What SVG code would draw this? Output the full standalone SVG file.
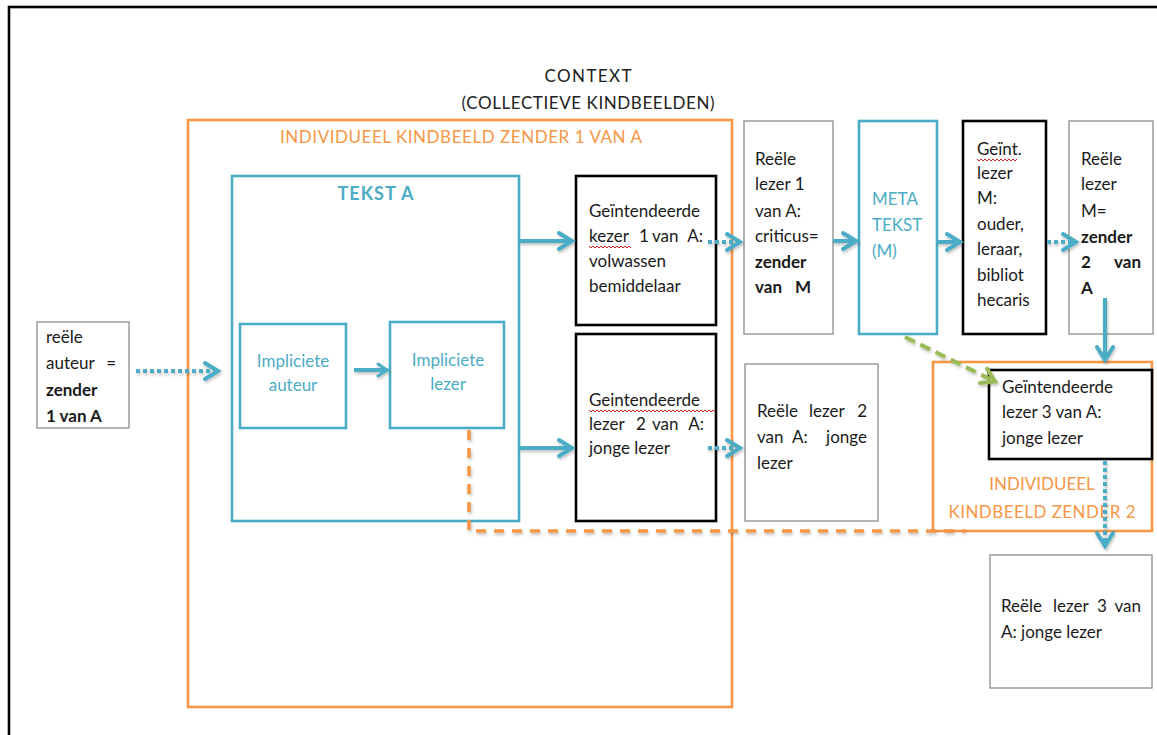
<svg xmlns="http://www.w3.org/2000/svg" width="1157" height="735" viewBox="0 0 1157 735">
  <defs>
    <style>
      text { font-family: Lato, "Open Sans", "Liberation Sans", sans-serif; font-size: 17px; fill: #1a1a1a; }
      .b { font-weight: bold; }
      .blue { fill: #4BACC6; }
      .orange { fill: #F79646; }
      .title { font-size: 17px; fill: #222; }
      .heading { font-size: 18px; letter-spacing: 1px; }
      .box-gray { fill: #fff; stroke: #8c8c8c; stroke-width: 1.3; }
      .box-black { fill: #fff; stroke: #000; stroke-width: 2.6; }
      .box-blue { fill: #fff; stroke: #4BACC6; stroke-width: 2.6; }
      .frame-orange { fill: none; stroke: #F79646; stroke-width: 2.6; }
      .solid { fill: none; stroke: #4BACC6; stroke-width: 4; }
      .dotted { fill: none; stroke: #4BACC6; stroke-width: 4; stroke-dasharray: 4 3; }
      .dash-orange { fill: none; stroke: #F79646; stroke-width: 3.5; stroke-dasharray: 10 8; }
      .dash-green { fill: none; stroke: #9BBB59; stroke-width: 4; stroke-dasharray: 11 6; }
      .squiggle { fill: none; stroke: #e02020; stroke-width: 1; }
    </style>
    <marker id="headBlue" markerUnits="userSpaceOnUse" markerWidth="22" markerHeight="22" viewBox="0 0 22 22" refX="19" refY="11" orient="auto">
      <path d="M5,3 L18,11 L5,19" fill="none" stroke="#4BACC6" stroke-width="4" stroke-linecap="round"/>
    </marker>
    <marker id="headBlueSmall" markerUnits="userSpaceOnUse" markerWidth="16" markerHeight="16" viewBox="0 0 16 16" refX="14" refY="8" orient="auto">
      <path d="M4,2 L13,8 L4,14" fill="none" stroke="#4BACC6" stroke-width="3" stroke-linecap="round"/>
    </marker>
    <marker id="headGreen" markerUnits="userSpaceOnUse" markerWidth="22" markerHeight="22" viewBox="0 0 22 22" refX="19" refY="11" orient="auto">
      <path d="M5,3 L18,11 L5,19" fill="none" stroke="#9BBB59" stroke-width="4" stroke-linecap="round"/>
    </marker>
    <filter id="soft" x="-20%" y="-50%" width="140%" height="200%">
      <feDropShadow dx="1" dy="2" stdDeviation="1.5" flood-color="#000" flood-opacity="0.25"/>
    </filter>
  </defs>

  <rect width="1157" height="735" fill="#fff"/>

  <!-- outer frame -->
  <rect x="9" y="7" width="1160" height="740" fill="none" stroke="#000" stroke-width="2.6"/>

  <!-- context heading -->
  <g id="context">
    <text class="title" x="588" y="82" text-anchor="middle" textLength="87">CONTEXT</text>
    <text class="title" x="588" y="109" text-anchor="middle" textLength="253">(COLLECTIEVE KINDBEELDEN)</text>
  </g>

  <!-- individual child image of sender 1 -->
  <g id="kindbeeld1">
    <rect class="frame-orange" x="188" y="120" width="544" height="587"/>
    <text class="orange" x="461" y="143" text-anchor="middle" textLength="362">INDIVIDUEEL KINDBEELD ZENDER 1 VAN A</text>
  </g>

  <!-- text A -->
  <g id="tekstA">
    <rect class="box-blue" x="232" y="176" width="287" height="345"/>
    <text class="blue b heading" x="376" y="200" text-anchor="middle">TEKST A</text>
  </g>

  <g id="reele-auteur">
    <rect class="box-gray" x="37" y="322" width="92" height="106"/>
    <text x="46" y="343">reële</text>
    <text x="46" y="369">auteur</text>
    <text x="116" y="369" text-anchor="end">=</text>
    <text class="b" x="46" y="396">zender</text>
    <text class="b" x="46" y="422">1 van A</text>
  </g>

  <g id="impliciete-auteur">
    <rect class="box-blue" x="240" y="324" width="106" height="104"/>
    <text class="blue" x="293" y="367" text-anchor="middle">Impliciete</text>
    <text class="blue" x="293" y="391" text-anchor="middle">auteur</text>
  </g>

  <g id="impliciete-lezer">
    <rect class="box-blue" x="390" y="322" width="114" height="106"/>
    <text class="blue" x="448" y="366" text-anchor="middle">Impliciete</text>
    <text class="blue" x="448" y="390" text-anchor="middle">lezer</text>
  </g>

  <g id="geint-lezer1">
    <rect class="box-black" x="576" y="176" width="140" height="149"/>
    <text x="589" y="217">Geïntendeerde</text>
    <text y="242"><tspan x="589">kezer</tspan><tspan x="639">1</tspan><tspan x="652">van</tspan></text>
    <text x="703" y="242" text-anchor="end">A:</text>
    <path class="squiggle" d="M589,246 l2,2 l2,-2 l2,2 l2,-2 l2,2 l2,-2 l2,2 l2,-2 l2,2 l2,-2 l2,2 l2,-2 l2,2 l2,-2 l2,2 l2,-2 l2,2 l2,-2 l2,2 l2,-2 l2,2"/>
    <text x="589" y="267">volwassen</text>
    <text x="589" y="292">bemiddelaar</text>
  </g>

  <g id="geint-lezer2">
    <rect class="box-black" x="576" y="334" width="140" height="187"/>
    <text x="589" y="406">Geintendeerde</text>
    <path class="squiggle" d="M589,410 l2,2 l2,-2 l2,2 l2,-2 l2,2 l2,-2 l2,2 l2,-2 l2,2 l2,-2 l2,2 l2,-2 l2,2 l2,-2 l2,2 l2,-2 l2,2 l2,-2 l2,2 l2,-2 l2,2 l2,-2 l2,2 l2,-2 l2,2 l2,-2 l2,2 l2,-2 l2,2 l2,-2 l2,2 l2,-2 l2,2 l2,-2 l2,2 l2,-2 l2,2 l2,-2 l2,2 l2,-2 l2,2 l2,-2 l2,2 l2,-2 l2,2 l2,-2 l2,2 l2,-2 l2,2 l2,-2 l2,2 l2,-2 l2,2 l2,-2 l2,2 l2,-2 l2,2 l2,-2 l2,2 l2,-2 l2,2 l2,-2 l2,2"/>
    <text y="430"><tspan x="589">lezer</tspan><tspan x="636">2</tspan><tspan x="652">van</tspan></text>
    <text x="704" y="430" text-anchor="end">A:</text>
    <text x="589" y="454">jonge lezer</text>
  </g>

  <g id="reele-lezer1">
    <rect class="box-gray" x="744" y="121" width="89" height="213"/>
    <text x="755" y="165">Reële</text>
    <text x="755" y="190">lezer 1</text>
    <text x="755" y="217">van A:</text>
    <text x="755" y="242">criticus=</text>
    <text class="b" x="755" y="268">zender</text>
    <text class="b" x="755" y="293">van</text>
    <text class="b" x="811" y="293" text-anchor="end">M</text>
  </g>

  <g id="reele-lezer2">
    <rect class="box-gray" x="745" y="364" width="133" height="157"/>
    <text y="417"><tspan x="757">Reële</tspan><tspan x="809">lezer</tspan></text>
    <text x="867" y="417" text-anchor="end">2</text>
    <text y="443"><tspan x="757">van</tspan><tspan x="792">A:</tspan></text>
    <text x="867" y="443" text-anchor="end">jonge</text>
    <text x="757" y="469">lezer</text>
  </g>

  <g id="metatekst">
    <rect class="box-blue" x="859" y="121" width="78" height="213"/>
    <text class="blue" x="872" y="205">META</text>
    <text class="blue" x="872" y="231">TEKST</text>
    <text class="blue" x="872" y="257">(M)</text>
  </g>

  <g id="geint-lezerM">
    <rect class="box-black" x="963" y="121" width="83" height="213"/>
    <text x="977" y="155">Geïnt.</text>
    <path class="squiggle" d="M977,159 l2,2 l2,-2 l2,2 l2,-2 l2,2 l2,-2 l2,2 l2,-2 l2,2 l2,-2 l2,2 l2,-2 l2,2 l2,-2 l2,2 l2,-2 l2,2 l2,-2 l2,2 l2,-2"/>
    <text x="977" y="179">lezer</text>
    <text x="977" y="204">M:</text>
    <text x="977" y="230">ouder,</text>
    <text x="977" y="255">leraar,</text>
    <text x="977" y="281">bibliot</text>
    <text x="977" y="306">hecaris</text>
  </g>

  <g id="reele-lezerM">
    <rect class="box-gray" x="1069" y="121" width="84" height="213"/>
    <text x="1081" y="165">Reële</text>
    <text x="1081" y="190">lezer</text>
    <text x="1081" y="217">M=</text>
    <text class="b" x="1081" y="243">zender</text>
    <text class="b" x="1081" y="268">2</text>
    <text class="b" x="1141" y="268" text-anchor="end">van</text>
    <text class="b" x="1081" y="294">A</text>
  </g>

  <!-- individual child image of sender 2 -->
  <g id="kindbeeld2">
    <rect class="frame-orange" x="933" y="362" width="219" height="169"/>
    <text class="orange" x="1042" y="490" text-anchor="middle">INDIVIDUEEL</text>
    <text class="orange" x="1042" y="518" text-anchor="middle" textLength="187">KINDBEELD ZENDER 2</text>
  </g>

  <g id="geint-lezer3">
    <rect class="box-black" x="989" y="370" width="163" height="89"/>
    <text x="1002" y="393">Geïntendeerde</text>
    <text x="1002" y="418">lezer 3 van A:</text>
    <text x="1002" y="444">jonge lezer</text>
  </g>

  <g id="reele-lezer3">
    <rect class="box-gray" x="990" y="555" width="162" height="133"/>
    <text y="612"><tspan x="1001">Reële</tspan><tspan x="1053">lezer</tspan><tspan x="1097">3</tspan></text>
    <text x="1141" y="612" text-anchor="end">van</text>
    <text x="1001" y="638">A: jonge lezer</text>
  </g>

  <!-- connectors -->
  <g id="connectors" filter="url(#soft)">
    <path class="dotted" d="M136,371 H219" marker-end="url(#headBlue)"/>
    <path class="solid" d="M354,370 H388" stroke-width="3" marker-end="url(#headBlueSmall)"/>
    <path class="solid" d="M519,241 H573" marker-end="url(#headBlue)"/>
    <path class="solid" d="M519,448 H573" marker-end="url(#headBlue)"/>
    <path class="dotted" d="M708,242 H741" marker-end="url(#headBlue)"/>
    <path class="dotted" d="M708,448 H741" marker-end="url(#headBlue)"/>
    <path class="solid" d="M833,241 H857" marker-end="url(#headBlue)"/>
    <path class="solid" d="M937,242 H961" marker-end="url(#headBlue)"/>
    <path class="dotted" d="M1047,242 H1077" marker-end="url(#headBlue)"/>
    <path class="solid" d="M1105,298 V361" marker-end="url(#headBlue)"/>
    <path class="dotted" d="M1105,461 V547" marker-end="url(#headBlue)"/>
    <path class="dash-green" d="M905,337 L996,382" marker-end="url(#headGreen)"/>
    <path class="dash-orange" d="M469,430 V531 H965"/>
  </g>
</svg>
